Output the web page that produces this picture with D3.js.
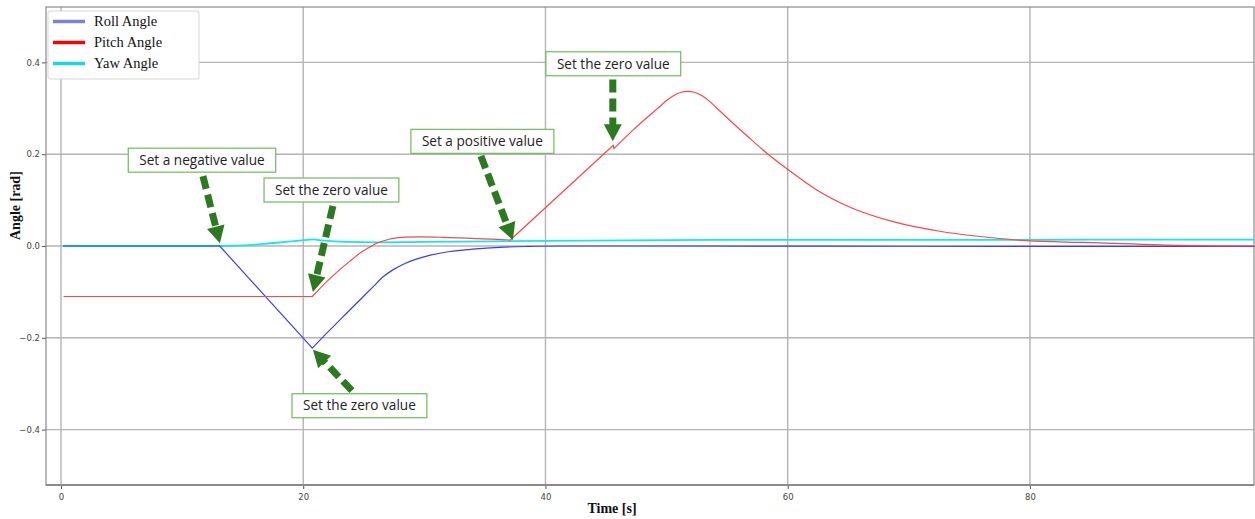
<!DOCTYPE html>
<html>
<head>
<meta charset="utf-8">
<script src="https://cdn.jsdelivr.net/npm/d3@7"></script>
<style>
	body { margin: 0; background: #fff; }
	svg { display: block; }
</style>
</head>
<body>
<svg id="chart"></svg>
<script>
// time [s] and angle [rad]
const rollTime  = [0.2, 13.1, 20.75, 21.6, 22.5, 23.6, 24.7, 25.8, 26.6, 27.4, 28.4, 29.4, 30.5, 32.1, 34.0, 36.2, 38.5, 41.2, 50, 70, 98.5];
const rollAngle = [0, 0, -0.2225, -0.199, -0.175, -0.146, -0.117, -0.088, -0.067, -0.052, -0.038, -0.028, -0.020, -0.012, -0.007, -0.003, -0.001, 0, 0, -0.0005, -0.001];
const rollBreaks = [13.1, 20.75];

const pitchTime  = [0.25, 20.75, 22.0, 23.0, 24.0, 24.7, 25.4, 26.1, 26.8, 27.4, 28.5, 29.6, 31.5, 33.5, 35.5, 37.1,
	45.6, 45.65, 47.2, 48.6, 49.4, 50.0, 50.6, 51.2, 51.7, 52.3, 53.0, 53.6, 54.4, 55.5, 56.9, 58.3, 60.1, 62.4, 65.1,
	68.7, 72.8, 76.9, 79.7, 83.9, 85.8, 91.3, 98.5];
const pitchAngle = [-0.11, -0.11, -0.076, -0.052, -0.03, -0.015, -0.004, 0.0065, 0.0125, 0.0167, 0.0195, 0.020, 0.019, 0.017, 0.015, 0.013,
	0.2196, 0.212, 0.252, 0.285, 0.303, 0.317, 0.328, 0.335, 0.337, 0.335, 0.326, 0.314, 0.294, 0.267, 0.234, 0.2015, 0.165, 0.122, 0.085,
	0.053, 0.031, 0.018, 0.0115, 0.008, 0.007, 0.002, 0.0];
const pitchBreaks = [20.75, 37.1, 45.6, 45.65];

const yawTime  = [0.2, 13.1, 15.5, 17.3, 19.0, 20.8, 22.0, 23.6, 26, 30, 40, 50, 60, 70, 80, 90, 98.5];
const yawAngle = [0, 0, 0.002, 0.006, 0.010, 0.0145, 0.011, 0.009, 0.008, 0.009, 0.011, 0.013, 0.0135, 0.0135, 0.0135, 0.014, 0.014];
const yawBreaks = [13.1, 20.8];

const seriesNames = ["Roll Angle", "Pitch Angle", "Yaw Angle"];
const xTicks = [0, 20, 40, 60, 80];
const yTicks = [-0.4, -0.2, 0.0, 0.2, 0.4];

// annotation boxes: box centre, arrow tail, arrow tip (all in data units)
const noteText = ["Set a negative value", "Set the zero value", "Set the zero value", "Set a positive value", "Set the zero value"];
const noteBox  = [[11.64, 0.187], [22.33, 0.122], [24.64, -0.348], [34.79, 0.228], [45.6, 0.397]];
const noteTail = [[11.72, 0.152], [22.45, 0.087], [24.02, -0.315], [34.67, 0.196], [45.56, 0.363]];
const noteTip  = [[13.12, 0.006], [20.8, -0.10], [20.8, -0.226], [37.31, 0.013], [45.56, 0.228]];

class AngleChart {
	constructor(_config) {
		this.config = {
			parentElement: _config.parentElement,
			containerWidth: 1255,
			containerHeight: 519,
			margin: {top: 7, bottom: 34, right: 1, left: 46}
		}
		this.initVis();
	}

	initVis() {
		let vis = this;
		let m = vis.config.margin;

		vis.width = vis.config.containerWidth - m.left - m.right;
		vis.height = vis.config.containerHeight - m.top - m.bottom;

		vis.svg = d3.select(vis.config.parentElement)
			.attr("width", vis.config.containerWidth)
			.attr("height", vis.config.containerHeight);

		vis.x = d3.scaleLinear().domain([-1.238, 98.5]).range([m.left, m.left + vis.width]);
		vis.y = d3.scaleLinear().domain([-0.5207, 0.5207]).range([m.top + vis.height, m.top]);

		vis.colors = d3.scaleOrdinal()
			.domain(seriesNames)
			.range(["#3a3aff", "#ff4545", "#10e8f0"]);
		vis.legendColors = d3.scaleOrdinal()
			.domain(seriesNames)
			.range(["#7f7fd6", "#ff0000", "#19d6e6"]);

		vis.updateVis();
	}

	// smooth each piece between kinks, keep the kinks sharp
	pathFor(pts, breaks) {
		let vis = this;
		let line = d3.line().x(d => vis.x(d[0])).y(d => vis.y(d[1])).curve(d3.curveMonotoneX);
		let pieces = [];
		let cur = [];
		pts.forEach(p => {
			cur.push(p);
			if (breaks.includes(p[0])) {
				pieces.push(cur);
				cur = [p];
			}
		});
		if (cur.length > 1) pieces.push(cur);
		return pieces.map(s => line(s)).join("");
	}

	updateVis() {
		let vis = this;
		let m = vis.config.margin;
		let bottom = m.top + vis.height;

		// grid
		let grid = vis.svg.append("g").attr("stroke", "#b4b4b4").attr("stroke-width", 1.4);
		grid.selectAll(".gx").data(xTicks).join("line")
			.attr("x1", d => vis.x(d)).attr("x2", d => vis.x(d))
			.attr("y1", m.top).attr("y2", bottom);
		grid.selectAll(".gy").data(yTicks).join("line")
			.attr("x1", m.left).attr("x2", m.left + vis.width)
			.attr("y1", d => vis.y(d)).attr("y2", d => vis.y(d));

		// axes
		let xAxis = vis.svg.append("g")
			.attr("transform", `translate(0,${bottom})`)
			.call(d3.axisBottom(vis.x).tickValues(xTicks).tickFormat(d3.format("d")).tickSize(4).tickSizeOuter(0));
		xAxis.select(".domain").remove();
		xAxis.selectAll("line").attr("stroke", "#555");
		xAxis.selectAll("text").attr("fill", "#444").attr("font-size", 8.5).attr("font-family", "DejaVu Sans").attr("dy", "0.9em");

		let yAxis = vis.svg.append("g")
			.attr("transform", `translate(${m.left},0)`)
			.call(d3.axisLeft(vis.y).tickValues(yTicks).tickFormat(d3.format(".1f")).tickSize(4).tickSizeOuter(0));
		yAxis.select(".domain").remove();
		yAxis.selectAll("line").attr("stroke", "#555");
		yAxis.selectAll("text").attr("fill", "#444").attr("font-size", 8.5).attr("font-family", "DejaVu Sans").attr("x", -6);

		// frame
		vis.svg.append("rect")
			.attr("x", m.left).attr("y", m.top)
			.attr("width", vis.width).attr("height", vis.height)
			.attr("fill", "none").attr("stroke", "#8a8a8a").attr("stroke-width", 1.2);
		vis.svg.append("line")
			.attr("x1", m.left).attr("x2", m.left + vis.width)
			.attr("y1", bottom).attr("y2", bottom)
			.attr("stroke", "#8a8a8a").attr("stroke-width", 2.2);

		// axis titles
		vis.svg.append("text")
			.attr("x", 612).attr("y", 513)
			.attr("text-anchor", "middle")
			.attr("font-family", "Liberation Serif").attr("font-weight", "bold").attr("font-size", 14)
			.attr("fill", "#111")
			.text("Time [s]");
		vis.svg.append("text")
			.attr("transform", `translate(20,${vis.y(0.088)}) rotate(-90)`)
			.attr("text-anchor", "middle")
			.attr("font-family", "Liberation Serif").attr("font-weight", "bold").attr("font-size", 14)
			.attr("fill", "#111")
			.text("Angle [rad]");

		// lines
		let series = [
			{name: "Yaw Angle", pts: d3.zip(yawTime, yawAngle), breaks: yawBreaks, w: 1.8},
			{name: "Roll Angle", pts: d3.zip(rollTime, rollAngle), breaks: rollBreaks, w: 1.2},
			{name: "Pitch Angle", pts: d3.zip(pitchTime, pitchAngle), breaks: pitchBreaks, w: 1.2}
		];
		vis.svg.append("g").selectAll("path").data(series).join("path")
			.attr("fill", "none")
			.attr("stroke", d => vis.colors(d.name))
			.attr("stroke-width", d => d.w)
			.attr("stroke-linejoin", "round")
			.attr("stroke-linecap", "round")
			.attr("d", d => vis.pathFor(d.pts, d.breaks));

		// annotations
		let notes = noteText.map((t, i) => ({text: t, box: noteBox[i], tail: noteTail[i], tip: noteTip[i]}));
		let gNote = vis.svg.append("g").selectAll("g").data(notes).join("g");

		gNote.each(function(d) {
			let g = d3.select(this);
			let tx = vis.x(d.tail[0]), ty = vis.y(d.tail[1]);
			let px = vis.x(d.tip[0]), py = vis.y(d.tip[1]);
			let dx = px - tx, dy = py - ty;
			let len = Math.hypot(dx, dy);
			let ux = dx / len, uy = dy / len;
			let headLen = 17, headW = 9;
			let bx = px - ux * headLen, by = py - uy * headLen;

			g.append("line")
				.attr("x1", tx).attr("y1", ty)
				.attr("x2", bx + ux * 1).attr("y2", by + uy * 1)
				.attr("stroke", "#2b7a1f").attr("stroke-width", 7)
				.attr("stroke-dasharray", "13,6");
			g.append("path")
				.attr("d", `M${px},${py}L${bx - uy * headW},${by + ux * headW}L${bx + uy * headW},${by - ux * headW}Z`)
				.attr("fill", "#2b7a1f");

			let cx = vis.x(d.box[0]), cy = vis.y(d.box[1]);
			let rect = g.append("rect").attr("fill", "#fff").attr("stroke", "#6cbc5a").attr("stroke-width", 1.2);
			let label = g.append("text")
				.attr("x", cx).attr("y", cy).attr("dy", "0.35em")
				.attr("text-anchor", "middle")
				.attr("font-family", "Open Sans").attr("font-size", 13.6)
				.attr("fill", "#222")
				.text(d.text);
			let tw = label.node().getComputedTextLength();
			rect.attr("x", cx - tw / 2 - 11).attr("y", cy - 12)
				.attr("width", tw + 22).attr("height", 24);
		});

		// legend
		let legend = vis.svg.append("g");
		legend.append("rect")
			.attr("x", 48).attr("y", 11).attr("width", 151).attr("height", 68)
			.attr("fill", "#fff").attr("stroke", "#d6d6d6").attr("rx", 2);
		let items = legend.selectAll("g").data(seriesNames).join("g")
			.attr("transform", (d, i) => `translate(0,${21.5 + i * 21})`);
		items.append("line")
			.attr("x1", 53).attr("x2", 85)
			.attr("stroke", d => vis.legendColors(d)).attr("stroke-width", 3.5);
		items.append("text")
			.attr("x", 94).attr("dy", "0.33em")
			.attr("font-family", "Liberation Serif").attr("font-size", 14.5)
			.attr("fill", "#111")
			.text(d => d);
	}
}

let chart = new AngleChart({parentElement: "#chart"});
</script>
</body>
</html>
